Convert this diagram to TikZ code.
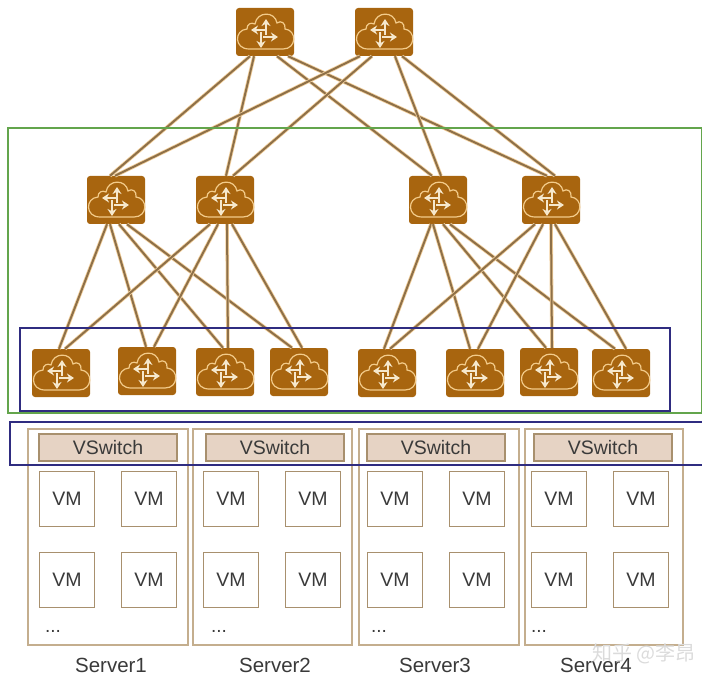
\documentclass[tikz,border=0pt]{standalone}
\usepackage{fontspec}
\setmainfont{Liberation Sans}
\newfontfamily\cjkfont{Noto Sans CJK SC}
\usetikzlibrary{arrows.meta}
\definecolor{routerfill}{HTML}{A8650F}
\definecolor{linktan}{HTML}{8E7048}
\definecolor{linkhalo}{HTML}{F2CF9C}
\definecolor{cloudline}{HTML}{F3CB8A}
\definecolor{arrowcream}{HTML}{F6E8CC}
\definecolor{servline}{HTML}{C4AE8E}
\definecolor{boxline}{HTML}{A8906E}
\definecolor{vsfill}{HTML}{E6D3C4}
\definecolor{greenbox}{HTML}{63A54C}
\definecolor{bluebox}{HTML}{2F2C80}
\definecolor{txt}{HTML}{3A3A3A}
\tikzset{
  x=1pt,y=-1pt,
  router/.style={fill=routerfill,rounded corners=3pt,minimum width=58pt,minimum height=48pt,inner sep=0pt,draw=none},
  link/.style={draw=linktan,line width=2pt,preaction={draw=linkhalo,line width=3.6pt}},
  serverbox/.style={draw=servline,line width=1.5pt,anchor=north west,inner sep=0pt},
  vsbox/.style={draw=boxline,fill=vsfill,line width=1.6pt,minimum width=138pt,minimum height=27pt,inner sep=0pt,text=txt,font=\fontsize{19.5}{19.5}\selectfont},
  vmbox/.style={draw=boxline,line width=1.6pt,fill=white,minimum width=55pt,minimum height=55pt,inner sep=0pt,text=txt,font=\fontsize{19.5}{19.5}\selectfont},
  label/.style={inner sep=0pt,text=txt,font=\fontsize{20.5}{20.5}\selectfont},
  iconarrow/.style={arrowcream,line width=2.6pt,-{Stealth[length=7pt,width=9pt]}},
  cloudicon/.pic={
    \draw[cloudline,line width=1.2pt]
      (-16,17) .. controls (-31,17) and (-31,-2) .. (-18,-3)
      .. controls (-18,-8) and (-14,-10) .. (-10,-8)
      .. controls (-8,-21) and (10,-21) .. (12,-9)
      .. controls (16,-12) and (21,-9) .. (20,-3)
      .. controls (32,-2) and (32,17) .. (18,17) -- cycle;
    \draw[iconarrow] (1,3) -- (1,-13);
    \draw[iconarrow] (2,-2) -- (-14,-2);
    \draw[iconarrow] (-2,5) -- (13,5);
    \draw[iconarrow] (-4,0) -- (-4,16);
  }
}
\begin{document}
\begin{tikzpicture}
\useasboundingbox (0,0) rectangle (702,679);
% routers
\foreach \n/\x/\y in {t1/265/32,t2/384/32,
  m1/116/200,m2/225/200,m3/438/200,m4/551/200,
  l1/61/373,l2/147/371,l3/225/372,l4/299/372,l5/387/373,l6/475/373,l7/549/372,l8/621/373}
  \node[router] (\n) at (\x,\y) {};
% links
\foreach \a/\s/\b/\e in {t1/-15/m1/-6,t1/-11/m2/1,t1/12/m3/-6,t1/23/m4/-4,
  t2/-24/m1/-1,t2/-12/m2/8,t2/11/m3/3,t2/18/m4/4,
  m1/-9/l1/-2,m1/-6/l2/-1,m1/3/l3/-2,m1/11/l4/-7,
  m2/-15/l1/4,m2/-7/l2/7,m2/2/l3/3,m2/7/l4/3,
  m3/-7/l5/-3,m3/-5/l6/-5,m3/5/l7/-3,m3/12/l8/-6,
  m4/-16/l5/3,m4/-8/l6/3,m4/0/l7/3,m4/4/l8/5}
  \draw[link] ([xshift=\s pt]\a.south) -- ([xshift=\e pt]\b.north);
% icons
\foreach \n in {t1,t2,m1,m2,m3,m4,l1,l2,l3,l4,l5,l6,l7,l8}
  \pic at (\n) {cloudicon};
% servers
\foreach \n/\x/\w in {s1/27/160,s2/192/159,s3/358/160,s4/524/158}
  \node[serverbox,minimum width=\w pt,minimum height=216pt] (\n) at (\x,428) {};
% vswitches
\foreach \n/\x in {v1/108,v2/275,v3/436,v4/603}
  \node[vsbox] (\n) at (\x,447.5) {VSwitch};
% VMs
\foreach \n/\x/\y in {a1/67/499,a2/149/499,a3/67/580,a4/149/580,
  b1/231/499,b2/313/499,b3/231/580,b4/313/580,
  c1/395/499,c2/477/499,c3/395/580,c4/477/580,
  d1/559/499,d2/641/499,d3/559/580,d4/641/580}
  \node[vmbox] (\n) at (\x,\y) {VM};
% dots
\foreach \n/\x in {e1/53,e2/219,e3/379,e4/539}
  \node[label,font=\fontsize{19}{19}\selectfont] (\n) at (\x,631) {...};
% server labels
\foreach \n/\x/\t in {f1/111/Server1,f2/275/Server2,f3/435/Server3,f4/596/Server4}
  \node[label] (\n) at (\x,665) {\t};
% watermark
\node[inner sep=0pt,text=black!14,font=\fontsize{20}{20}\cjkfont] (w) at (644,654) {知乎 @李昂};
% frames
\draw[greenbox,line width=2.4pt] (8,128) rectangle (702,413);
\draw[bluebox,line width=2pt] (20,328) rectangle (670,411);
\draw[bluebox,line width=2.2pt] (702,422) -- (10,422) -- (10,465) -- (702,465);
\end{tikzpicture}
\end{document}
